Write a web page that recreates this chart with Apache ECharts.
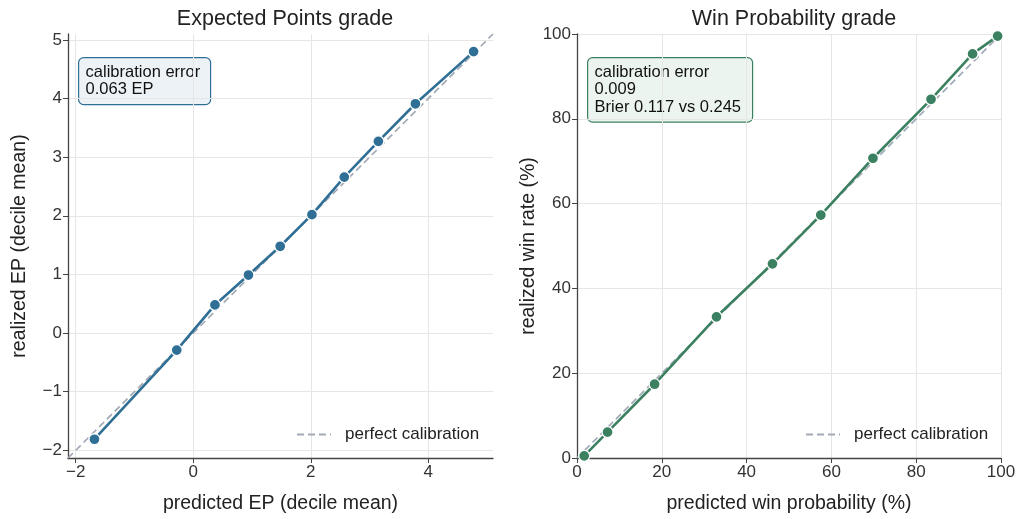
<!DOCTYPE html>
<html><head><meta charset="utf-8">
<script src="https://cdn.jsdelivr.net/npm/echarts@6/dist/echarts.min.js"></script>
<style>html,body{margin:0;padding:0;background:#fff}#c{width:1019px;height:519px}</style>
</head><body><div id="c"></div>
<script>
// ---- data ----
const epPredicted = [-1.68, -0.28, 0.37, 0.94, 1.48, 2.02, 2.57, 3.15, 3.78, 4.77];
const epRealized  = [-1.81, -0.29, 0.48, 0.99, 1.48, 2.02, 2.66, 3.27, 3.91, 4.80];
const wpPredicted = [1.7, 7.2, 18.3, 32.9, 46.1, 57.5, 69.8, 83.5, 93.3, 99.2];
const wpRealized  = [0.5, 6.1, 17.4, 33.3, 45.8, 57.3, 70.7, 84.6, 95.3, 99.5];
const epXTicks = [-2, 0, 2, 4];
const epYTicks = [-2, -1, 0, 1, 2, 3, 4, 5];
const wpTicks = [0, 20, 40, 60, 80, 100];
const epRange = [-2.13, 5.1];
const wpRange = [0, 100];
const epNote = ['calibration error', '0.063 EP'];
const wpNote = ['calibration error', '0.009', 'Brier 0.117 vs 0.245'];

const FONT = "'Liberation Sans', Arial, sans-serif";
const BLUE = '#2f6f95', GREEN = '#3b8060', DIAG = '#a2aab6';
const fmt = v => (v < 0 ? '\u2212' + Math.abs(v) : String(v));

function axis(grid, ticks, range, name, gap) {
  return {
    type: 'value', gridIndex: grid, min: range[0], max: range[1],
    name: name, nameLocation: 'middle', nameGap: gap,
    nameTextStyle: { fontFamily: FONT, fontSize: 19.5, color: '#222' },
    axisLine: { show: true, onZero: false, lineStyle: { color: '#444', width: 1.3 } },
    axisTick: { show: true, length: 5, lineStyle: { color: '#444', width: 1 }, customValues: ticks },
    axisLabel: { fontFamily: FONT, fontSize: 17, color: '#333', margin: 6, customValues: ticks, formatter: fmt },
    splitLine: { show: true, lineStyle: { color: '#e6e6e6', width: 1 } }
  };
}

function pts(xs, ys) { return xs.map((x, i) => [x, ys[i]]); }

function lineSeries(i, data, color) {
  return {
    type: 'line', xAxisIndex: i, yAxisIndex: i, data: data, z: 3,
    symbol: 'circle', symbolSize: 11, showSymbol: true,
    lineStyle: { color: color, width: 2.6 },
    itemStyle: { color: color, borderColor: '#fff', borderWidth: 1.3 },
    emphasis: { disabled: true }, animation: false
  };
}
function diagSeries(i, range) {
  return {
    type: 'line', name: 'perfect calibration', xAxisIndex: i, yAxisIndex: i, z: 2,
    data: [[range[0], range[0]], [range[1], range[1]]], symbol: 'none',
    lineStyle: { color: DIAG, width: 1.7, type: [7, 4] }, itemStyle: { color: DIAG },
    animation: false
  };
}
function note(x, y, w, lines, stroke, fill) {
  return {
    type: 'group', left: x, top: y, children: [
      { type: 'rect', shape: { x: 0, y: 0, width: w, height: lines.length * 17.5 + 12, r: 5 },
        style: { fill: fill, stroke: stroke, lineWidth: 1.2 } },
      { type: 'text', x: 7, y: 6, style: { text: lines.join('\n'), font: '16.5px ' + FONT,
        fill: '#111', lineHeight: 17.5 } }
    ]
  };
}
function legend(left) {
  return {
    left: left, top: 426, padding: 0, itemWidth: 34, itemHeight: 16,
    data: ['perfect calibration'], selectedMode: false,
    itemStyle: { opacity: 0 },
    textStyle: { fontFamily: FONT, fontSize: 17, color: '#222', padding: [0, 0, 0, 9] }
  };
}

const chart = echarts.init(document.getElementById('c'), null, { renderer: 'canvas' });
chart.setOption({
  animation: false,
  title: [
    { text: 'Expected Points grade', left: 280, top: 3, textAlign: 'center',
      textStyle: { fontFamily: FONT, fontSize: 21.5, fontWeight: 'normal', color: '#222' } },
    { text: 'Win Probability grade', left: 789, top: 3, textAlign: 'center',
      textStyle: { fontFamily: FONT, fontSize: 21.5, fontWeight: 'normal', color: '#222' } }
  ],
  grid: [
    { left: 68, top: 34, width: 425, height: 424 },
    { left: 577, top: 34, width: 424, height: 424 }
  ],
  xAxis: [
    axis(0, epXTicks, epRange, 'predicted EP (decile mean)', 36),
    axis(1, wpTicks, wpRange, 'predicted win probability (%)', 36)
  ],
  yAxis: [
    axis(0, epYTicks, epRange, 'realized EP (decile mean)', 38),
    axis(1, wpTicks, wpRange, 'realized win rate (%)', 38)
  ],
  legend: [legend(296), legend(805)],
  series: [
    diagSeries(0, epRange),
    lineSeries(0, pts(epPredicted, epRealized), BLUE),
    diagSeries(1, wpRange),
    lineSeries(1, pts(wpPredicted, wpRealized), GREEN)
  ],
  graphic: [
    note(78, 57, 132, epNote, BLUE, '#edf2f6'),
    note(587, 57, 165, wpNote, GREEN, '#ecf4ef')
  ]
});
</script></body></html>
